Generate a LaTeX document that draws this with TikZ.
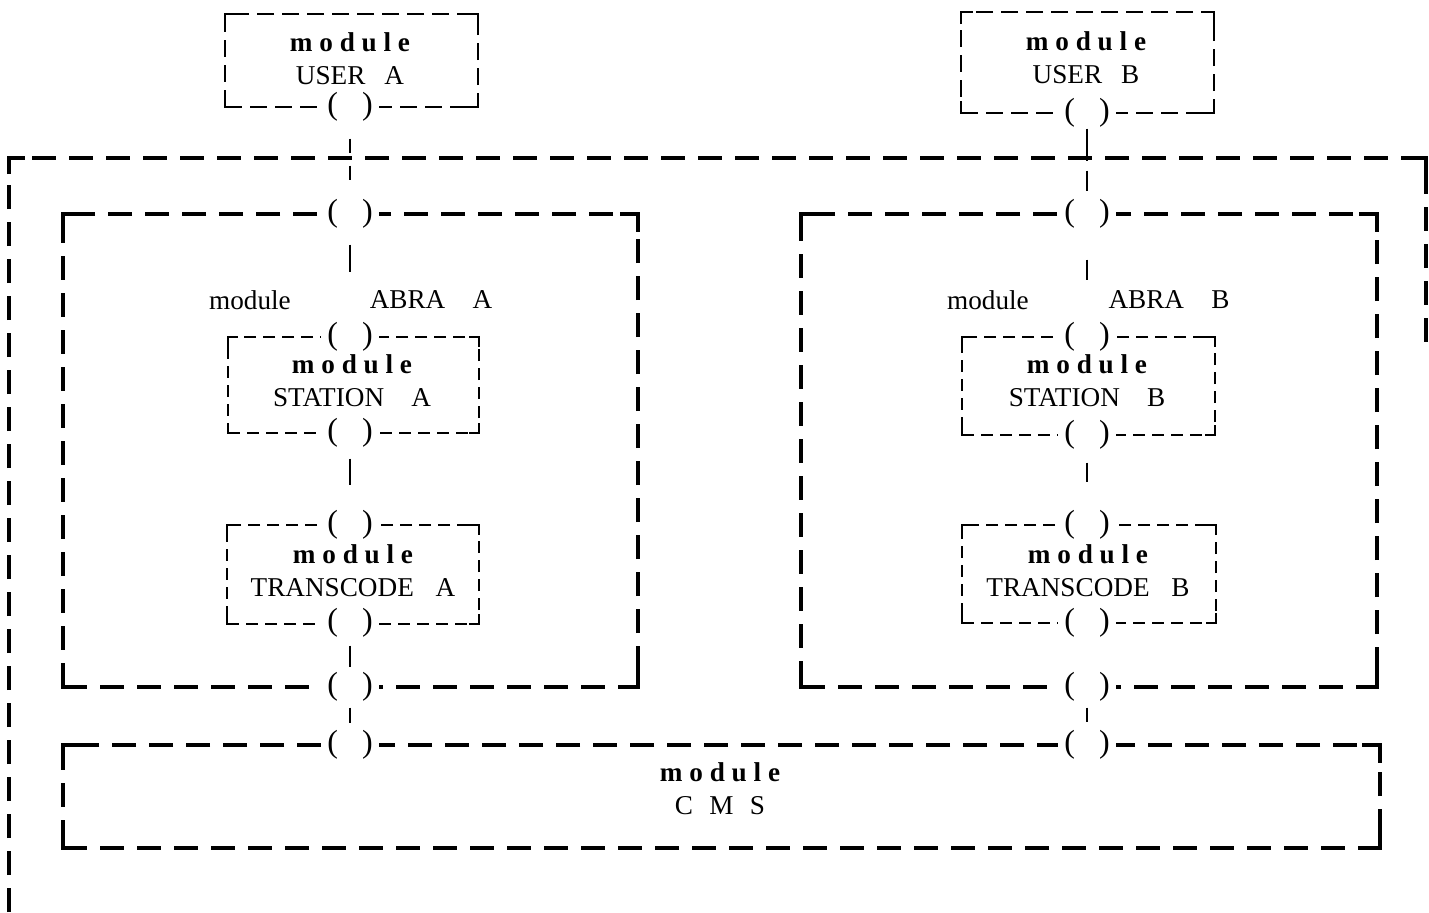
\documentclass[tikz,border=0pt]{standalone}
\usepackage{fontspec}
\setmainfont{Liberation Serif}
\usetikzlibrary{calc}
\newcommand\mybc[3]{%
  \draw[#3,solid] ([yshift=-#2]#1.north west) |- ([xshift=#2]#1.north west);
  \draw[#3,solid] ([xshift=-#2]#1.north east) -| ([yshift=-#2]#1.north east);
  \draw[#3,solid] ([yshift=#2]#1.south west) |- ([xshift=#2]#1.south west);
  \draw[#3,solid] ([xshift=-#2]#1.south east) -| ([yshift=#2]#1.south east);
}
\newcommand\modtxt{{\bfseries m o d u l e}}
\tikzset{
  txt/.style={font=\fontsize{13.6}{16.5}\selectfont, align=center, inner sep=0pt},
  bigline/.style={line width=1.6pt, dash pattern=on 12pt off 6.5pt},
  smallline/.style={line width=1.2pt, dash pattern=on 6pt off 3.5pt},
  bigbox/.style={draw, bigline, outer sep=0pt, inner sep=0pt},
  smallbox/.style={draw, smallline, outer sep=0pt, inner sep=0pt},
  port/.style={fill=white, inner xsep=3pt, inner ysep=0pt, outer sep=0pt,
    minimum height=14pt, font=\fontsize{16}{16}\selectfont},
  conn/.style={line width=1.4pt},
}
\begin{document}
\begin{tikzpicture}[x=0.5pt,y=-0.5pt]
\useasboundingbox (0,0) rectangle (1429,912);
% outer box (open)
\coordinate (o1) at (9,912);
\coordinate (o2) at (9,158);
\coordinate (o3) at (1426,158);
\coordinate (o4) at (1426,345);
\draw[bigline] (o1) -- (o2) -- (o3) -- (o4);
\draw[line width=1.6pt] ([yshift=-8pt]o2) |- ([xshift=8pt]o2);
\draw[line width=1.6pt] ([xshift=-8pt]o3) -| ([yshift=-8pt]o3);

% user modules
\node[smallbox, dash pattern=on 8.5pt off 4pt, minimum width=126.5pt, minimum height=46.5pt] (userA) at (351.5,60.5) {};
\node[smallbox, dash pattern=on 8.5pt off 4pt, minimum width=126.5pt, minimum height=50.5pt] (userB) at (1087.5,62.5) {};
\mybc{userA}{6pt}{line width=1.2pt}
\mybc{userB}{6pt}{line width=1.2pt}
\node[txt] (userAT) at (350,59) {\modtxt\\USER\hspace{0.7em}A};
\node[txt] (userBT) at (1086,57.5) {\modtxt\\USER\hspace{0.7em}B};

% ABRA modules
\node[bigbox, minimum width=287.5pt, minimum height=236.5pt] (abraA) at (350.5,450.5) {};
\node[bigbox, minimum width=288pt, minimum height=236.5pt] (abraB) at (1089,450.5) {};
\mybc{abraA}{9pt}{line width=1.6pt}
\mybc{abraB}{9pt}{line width=1.6pt}
\node[txt] (abraAm) at (250,300) {module};
\node[txt] (abraAn) at (431,300) {ABRA\hspace{1em}A};
\node[txt] (abraBm) at (988,300) {module};
\node[txt] (abraBn) at (1169,300) {ABRA\hspace{1em}B};

% station modules
\node[smallbox, minimum width=125.5pt, minimum height=48pt] (staA) at (353.5,385) {};
\node[smallbox, minimum width=126.5pt, minimum height=49pt] (staB) at (1088.5,386) {};
\mybc{staA}{5pt}{line width=1.2pt}
\mybc{staB}{5pt}{line width=1.2pt}
\node[txt] (staAT) at (352,381) {\modtxt\\STATION\hspace{1em}A};
\node[txt] (staBT) at (1087,381) {\modtxt\\STATION\hspace{1em}B};

% transcode modules
\node[smallbox, minimum width=126pt, minimum height=49.5pt] (traA) at (353,574.5) {};
\node[smallbox, minimum width=127pt, minimum height=49pt] (traB) at (1089,574) {};
\mybc{traA}{5pt}{line width=1.2pt}
\mybc{traB}{5pt}{line width=1.2pt}
\node[txt] (traAT) at (353,571) {\modtxt\\TRANSCODE\hspace{0.8em}A};
\node[txt] (traBT) at (1088,571) {\modtxt\\TRANSCODE\hspace{0.8em}B};

% CMS module
\node[bigbox, minimum width=658.5pt, minimum height=51.5pt] (cms) at (721.5,796.5) {};
\mybc{cms}{9pt}{line width=1.6pt}
\node[txt] (cmsT) at (720,789) {\modtxt\\C\hspace{0.6em}M\hspace{0.6em}S};

% ports
\node[port] (uAp) at (350,107) {(\hspace{0.75em})};
\node[port] (uBp) at (1087,113) {(\hspace{0.75em})};
\node[port] (aAt) at (350,214) {(\hspace{0.75em})};
\node[port] (aAb) at (350,687) {(\hspace{0.75em})};
\node[port] (aBt) at (1087,214) {(\hspace{0.75em})};
\node[port] (aBb) at (1087,687) {(\hspace{0.75em})};
\node[port] (sAt) at (350,337) {(\hspace{0.75em})};
\node[port] (sAb) at (350,433) {(\hspace{0.75em})};
\node[port] (sBt) at (1087,337) {(\hspace{0.75em})};
\node[port] (sBb) at (1087,435) {(\hspace{0.75em})};
\node[port] (tAt) at (350,525) {(\hspace{0.75em})};
\node[port] (tAb) at (350,623) {(\hspace{0.75em})};
\node[port] (tBt) at (1087,525) {(\hspace{0.75em})};
\node[port] (tBb) at (1087,623) {(\hspace{0.75em})};
\node[port] (cA) at (350,745) {(\hspace{0.75em})};
\node[port] (cB) at (1087,745) {(\hspace{0.75em})};

% connectors
\draw[conn, dash pattern=on 7pt off 6.5pt, shorten <=8.5pt, shorten >=8pt] (uAp) -- (aAt);
\draw[conn, dash pattern=on 16pt off 5pt, shorten <=0.5pt, shorten >=4.5pt] (uBp) -- (aBt);
\draw[conn, shorten <=8pt, shorten >=25.5pt] (aAt) -- (sAt);
\draw[conn, shorten <=5.5pt, shorten >=13pt] (sAb) -- (tAt);
\draw[conn, shorten <=4pt, shorten >=3pt] (tAb) -- (aAb);
\draw[conn, shorten <=3pt, shorten >=4pt] (aAb) -- (cA);
\draw[conn, shorten <=15.5pt, shorten >=21.5pt] (aBt) -- (sBt);
\draw[conn, shorten <=6.5pt, shorten >=14.5pt] (sBb) -- (tBt);
\draw[conn, shorten <=3pt, shorten >=4.5pt] (aBb) -- (cB);
\end{tikzpicture}
\end{document}
